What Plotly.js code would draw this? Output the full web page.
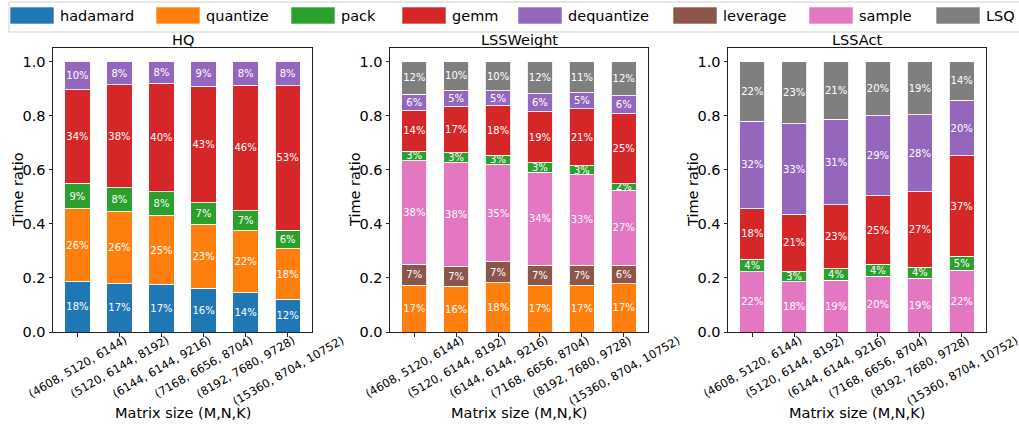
<!DOCTYPE html>
<html>
<head>
<meta charset="utf-8">
<script src="https://cdn.plot.ly/plotly-3.0.1.min.js"></script>
<style>html,body{margin:0;padding:0;background:#fff;}#chart{width:1019px;height:427px;}</style>
</head>
<body>
<div id="chart"></div>
<script>
// ---------- data ----------
const categories = ['(4608, 5120, 6144)', '(5120, 6144, 8192)', '(6144, 6144, 9216)',
                    '(7168, 6656, 8704)', '(8192, 7680, 9728)', '(15360, 8704, 10752)'];
const components = ['hadamard', 'quantize', 'pack', 'gemm', 'dequantize', 'leverage', 'sample', 'LSQ'];
const panelTitles = ['HQ', 'LSSWeight', 'LSSAct'];

// HQ (bottom -> top)
const hq_hadamard   = [0.186, 0.178, 0.175, 0.162, 0.146, 0.121];
const hq_quantize   = [0.269, 0.266, 0.256, 0.236, 0.228, 0.186];
const hq_pack       = [0.095, 0.089, 0.087, 0.079, 0.075, 0.069];
const hq_gemm       = [0.345, 0.382, 0.401, 0.432, 0.464, 0.535];
const hq_dequantize = [0.105, 0.085, 0.081, 0.091, 0.087, 0.089];

// LSSWeight (bottom -> top)
const lw_quantize   = [0.173, 0.169, 0.182, 0.173, 0.173, 0.179];
const lw_leverage   = [0.077, 0.075, 0.077, 0.074, 0.074, 0.068];
const lw_sample     = [0.384, 0.382, 0.359, 0.344, 0.335, 0.277];
const lw_pack       = [0.035, 0.037, 0.036, 0.034, 0.033, 0.025];
const lw_gemm       = [0.149, 0.172, 0.182, 0.190, 0.210, 0.259];
const lw_dequantize = [0.061, 0.059, 0.056, 0.065, 0.059, 0.066];
const lw_lsq        = [0.121, 0.106, 0.108, 0.120, 0.116, 0.126];

// LSSAct (bottom -> top)
const la_sample     = [0.223, 0.186, 0.191, 0.206, 0.198, 0.229];
const la_pack       = [0.046, 0.039, 0.043, 0.044, 0.042, 0.051];
const la_gemm       = [0.188, 0.210, 0.236, 0.254, 0.279, 0.371];
const la_dequantize = [0.322, 0.335, 0.316, 0.295, 0.284, 0.205];
const la_lsq        = [0.221, 0.230, 0.214, 0.201, 0.197, 0.144];

const yTicks = [0, 0.2, 0.4, 0.6, 0.8, 1.0];

// ---------- styles ----------
const colorMap = {
  hadamard: '#1f77b4', quantize: '#ff7f0e', pack: '#2ca02c', gemm: '#d62728',
  dequantize: '#9467bd', leverage: '#8c564b', sample: '#e377c2', LSQ: '#7f7f7f'
};
const FONT = 'DejaVu Sans';
const TICK_FS = 11.5;
const W = 1019, H = 427;
const px = x => x / W;
const py = y => 1 - y / H;

// measure text width (for top-aligned rotated tick labels, matplotlib style)
const mctx = document.createElement('canvas').getContext('2d');
mctx.font = TICK_FS + 'px "' + FONT + '"';
const textW = t => mctx.measureText(t).width;

const panels = [
  [['hadamard', hq_hadamard], ['quantize', hq_quantize], ['pack', hq_pack], ['gemm', hq_gemm], ['dequantize', hq_dequantize]],
  [['quantize', lw_quantize], ['leverage', lw_leverage], ['sample', lw_sample], ['pack', lw_pack], ['gemm', lw_gemm], ['dequantize', lw_dequantize], ['LSQ', lw_lsq]],
  [['sample', la_sample], ['pack', la_pack], ['gemm', la_gemm], ['dequantize', la_dequantize], ['LSQ', la_lsq]]
];
const xDomainsPx = [[53, 312], [390, 648], [728, 986]];
const plotTop = 48, plotBottom = 332;

const traces = [];
const layout = {
  width: W, height: H,
  margin: {l: 0, r: 0, t: 0, b: 0},
  paper_bgcolor: '#fff', plot_bgcolor: '#fff',
  barmode: 'stack',
  showlegend: false,
  font: {family: FONT, color: '#000', size: 14.5},
  annotations: [], shapes: []
};

panels.forEach((series, i) => {
  const s = i === 0 ? '' : String(i + 1);
  series.forEach(([name, vals]) => {
    traces.push({
      type: 'bar', x: categories, y: vals, name: name,
      xaxis: 'x' + s, yaxis: 'y' + s, width: 0.6,
      marker: {color: colorMap[name], line: {color: 'rgba(255,255,255,0.85)', width: 1}},
      text: vals.map(v => Math.floor(v * 100 + 1e-6) + '%'),
      textposition: 'inside', insidetextanchor: 'middle', textangle: 0,
      constraintext: 'none',
      textfont: {family: FONT, size: 10, color: '#ffffff'},
      hoverinfo: 'name+y', showlegend: false
    });
  });
  const d = xDomainsPx[i];
  layout['xaxis' + s] = {
    domain: [px(d[0]), px(d[1])], anchor: 'y' + s, type: 'category',
    range: [-0.58, 5.58], showline: true, mirror: true, linecolor: '#222', linewidth: 1,
    ticks: 'outside', ticklen: 3.5, tickcolor: '#222', tickwidth: 1,
    showticklabels: false, showgrid: false, zeroline: false, fixedrange: true
  };
  layout['yaxis' + s] = {
    domain: [py(plotBottom), py(plotTop)], anchor: 'x' + s,
    range: [0, 1.05], tickvals: yTicks, ticktext: yTicks.map(v => v.toFixed(1)),
    showline: true, mirror: true, linecolor: '#222', linewidth: 1,
    ticks: 'outside', ticklen: 3.5, tickcolor: '#222', tickwidth: 1,
    tickfont: {family: FONT, size: 14.5, color: '#000'},
    showgrid: false, zeroline: false, fixedrange: true
  };
  const cx = (d[0] + d[1]) / 2;
  // panel title
  layout.annotations.push({xref: 'paper', yref: 'paper', x: px(cx), y: py(40),
    xanchor: 'center', yanchor: 'middle', showarrow: false, text: panelTitles[i],
    font: {family: FONT, size: 14.5, color: '#000'}});
  // y axis title
  layout.annotations.push({xref: 'paper', yref: 'paper', x: px(d[0] - 35), y: py((plotTop + plotBottom) / 2),
    xanchor: 'center', yanchor: 'middle', showarrow: false, text: 'Time ratio', textangle: -90,
    font: {family: FONT, size: 14.5, color: '#000'}});
  // x axis title
  layout.annotations.push({xref: 'paper', yref: 'paper', x: px(cx), y: py(413),
    xanchor: 'center', yanchor: 'middle', showarrow: false, text: 'Matrix size (M,N,K)',
    font: {family: FONT, size: 14.5, color: '#000'}});
  // rotated tick labels, centred under each bar, top-aligned (matplotlib rotation=30)
  categories.forEach(c => {
    const centerY = plotBottom + 7 + textW(c) * 0.25;
    layout.annotations.push({xref: 'x' + s, yref: 'paper', x: c, y: py(centerY),
      xanchor: 'center', yanchor: 'middle', showarrow: false, text: c, textangle: -30,
      borderpad: 0, font: {family: FONT, size: TICK_FS, color: '#000'}});
  });
});

// ---------- legend (drawn as a matplotlib-like box across the top) ----------
const legendX = [10, 156, 291, 402, 518, 673, 809, 936];
const patchW = 44;
layout.shapes.push({type: 'rect', xref: 'paper', yref: 'paper', x0: px(9), x1: px(1030), y0: py(2), y1: py(32),
  line: {color: '#d0d0d0', width: 1}, fillcolor: 'rgba(255,255,255,0.8)', layer: 'below'});
components.forEach((name, k) => {
  const lx = legendX[k];
  layout.shapes.push({type: 'rect', xref: 'paper', yref: 'paper', x0: px(lx), x1: px(lx + patchW), y0: py(7), y1: py(24),
    fillcolor: colorMap[name], line: {color: 'rgba(255,255,255,0.6)', width: 1}});
  layout.annotations.push({xref: 'paper', yref: 'paper', x: px(lx + patchW + 4), y: py(15.5),
    xanchor: 'left', yanchor: 'middle', showarrow: false, text: name,
    font: {family: FONT, size: 14.5, color: '#000'}});
});

Plotly.newPlot('chart', traces, layout, {displayModeBar: false, staticPlot: true});
</script>
</body>
</html>
